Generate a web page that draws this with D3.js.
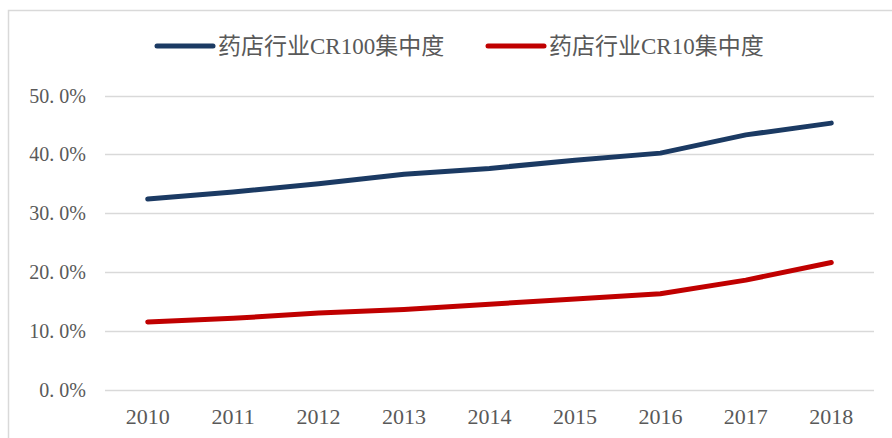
<!DOCTYPE html>
<html>
<head>
<meta charset="utf-8">
<script src="https://cdn.jsdelivr.net/npm/d3@7"></script>
<style>
  body { margin: 0; background: #fff; }
  svg { display: block; }
</style>
</head>
<body>
<svg id="chart" width="892" height="438"></svg>
<script>
// Data
const years = ["2010", "2011", "2012", "2013", "2014", "2015", "2016", "2017", "2018"];
const cr100 = [0.324, 0.336, 0.350, 0.366, 0.376, 0.390, 0.402, 0.433, 0.453];
const cr10 = [0.115, 0.121, 0.130, 0.136, 0.145, 0.154, 0.163, 0.186, 0.216];
const yTicks = [0, 0.1, 0.2, 0.3, 0.4, 0.5];
const seriesNames = ["药店行业CR100集中度", "药店行业CR10集中度"];

const colors = ["#1b3a63", "#c00000"];
const width = 892, height = 438;
const serif = "'Liberation Serif', 'Noto Sans CJK SC', serif";

const svg = d3.select("#chart");

// outer frame (top + left edges visible)
svg.append("path")
    .attr("d", `M8.5,${height}V10.5H${width}`)
    .attr("fill", "none")
    .attr("stroke", "#d9d9d9")
    .attr("stroke-width", 1.5);

const x = d3.scalePoint()
    .domain(years)
    .range([105, 874])
    .padding(0.5);

const y = d3.scaleLinear()
    .domain([0, 0.5])
    .range([389.5, 95.5]);

// Grid lines
svg.append("g")
    .selectAll("line")
    .data(yTicks)
    .enter().append("line")
    .attr("x1", 105)
    .attr("x2", 874)
    .attr("y1", d => Math.round(y(d)) + 0.5)
    .attr("y2", d => Math.round(y(d)) + 0.5)
    .attr("stroke", "#d9d9d9")
    .attr("stroke-width", 1.5);

// Y axis labels
const fmt = d3.format(".1%");
svg.append("g")
    .selectAll("text")
    .data(yTicks)
    .enter().append("text")
    .attr("x", 86)
    .attr("y", d => y(d))
    .attr("dy", "0.35em")
    .attr("text-anchor", "end")
    .attr("font-family", serif)
    .attr("font-size", 20)
    .attr("fill", "#595959")
    .text(d => fmt(d).replace(".", ". "));

// X axis labels
svg.append("g")
    .selectAll("text")
    .data(years)
    .enter().append("text")
    .attr("x", d => x(d))
    .attr("y", 424)
    .attr("text-anchor", "middle")
    .attr("font-family", serif)
    .attr("font-size", 22)
    .attr("fill", "#595959")
    .text(d => d);

// Lines
const line = d3.line()
    .x((d, i) => x(years[i]))
    .y(d => y(d));

svg.append("g")
    .selectAll("path")
    .data([cr100, cr10])
    .enter().append("path")
    .attr("d", d => line(d))
    .attr("fill", "none")
    .attr("stroke", (d, i) => colors[i])
    .attr("stroke-width", 5)
    .attr("stroke-linecap", "round")
    .attr("stroke-linejoin", "round");

// Legend
const legendX = [157, 488];
const legend = svg.append("g")
    .selectAll("g")
    .data(seriesNames)
    .enter().append("g")
    .attr("transform", (d, i) => `translate(${legendX[i]},46)`);

legend.append("line")
    .attr("x1", 0)
    .attr("x2", 56)
    .attr("stroke", (d, i) => colors[i])
    .attr("stroke-width", 5)
    .attr("stroke-linecap", "round");

legend.append("text")
    .attr("x", 61)
    .attr("dy", "0.36em")
    .attr("font-family", serif)
    .attr("font-size", 23)
    .attr("fill", "#595959")
    .text(d => d);
</script>
</body>
</html>
